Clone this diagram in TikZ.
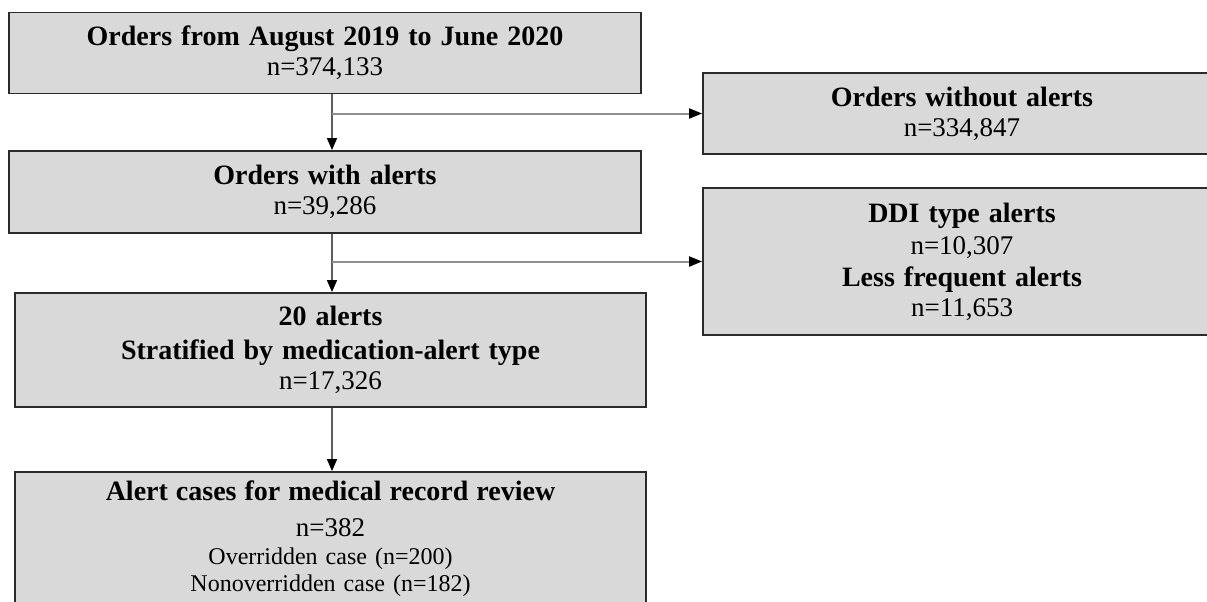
\documentclass[tikz,border=0pt]{standalone}
\usepackage{fontspec}
\setmainfont{Liberation Serif}[WordSpace=1.35]
\usetikzlibrary{arrows.meta}
\definecolor{boxfill}{HTML}{D9D9D9}
\definecolor{boxline}{HTML}{2B2B2B}
\definecolor{vlinecol}{HTML}{5E5E5E}
\definecolor{hlinecol}{HTML}{8F8F8F}
\newcommand\tkHead{\fontsize{28}{30}\selectfont\bfseries}
\newcommand\tkNum{\fontsize{27}{30}\selectfont\mdseries}
\newcommand\tkSmall{\fontsize{24}{27.5}\selectfont\mdseries}
\begin{document}
\begin{tikzpicture}[x=1pt,y=-1pt,
  flowbox/.style={draw=boxline, line width=1.8pt, fill=boxfill, inner sep=0pt, align=center,
    font=\fontsize{27}{30}\selectfont},
  vconn/.style={draw=vlinecol, line width=1.4pt, -{Triangle[length=12pt,width=10pt,color=black]}},
  hconn/.style={draw=hlinecol, line width=2pt, -{Triangle[length=13pt,width=10pt,color=black]}}]
\clip (0,0) rectangle (1207,602);
\fill[white] (0,0) rectangle (1207,602);
\node[flowbox, text width=632pt, minimum height=81pt] (b1) at (325,53)
  {\tkHead Orders from August 2019 to June 2020\\\tkNum n=374,133};
\node[flowbox, text width=632pt, minimum height=82pt] (b2) at (325,192)
  {\tkHead Orders with alerts\\\tkNum n=39,286};
\node[flowbox, text width=631pt, minimum height=114pt] (b3) at (330.5,350)
  {\tkHead 20 alerts\\[4pt]Stratified by medication-alert type\\\tkNum n=17,326};
\node[flowbox, text width=631pt, minimum height=134pt, font=\fontsize{24}{27.5}\selectfont] (b4) at (330.5,539)
  {\tkHead Alert cases for medical record review\\[6pt]\tkNum n=382\\\tkSmall Overridden case (n=200)\\Nonoverridden case (n=182)};
\node[flowbox, text width=518pt, minimum height=81pt] (r1) at (962,113.5)
  {\tkHead Orders without alerts\\\tkNum n=334,847};
\node[flowbox, text width=518pt, minimum height=147pt] (r2) at (962,261.5)
  {\tkHead DDI type alerts\\[2pt]\tkNum n=10,307\\[2pt]\tkHead Less frequent alerts\\\tkNum n=11,653};
\coordinate (ax) at (332,0);
\draw[vconn] (b1.south -| ax) -- (b2.north -| ax);
\draw[vconn] (b2.south -| ax) -- (b3.north -| ax);
\draw[vconn] (b3.south -| ax) -- (b4.north -| ax);
\draw[hconn] (r1.west -| ax) -- (r1.west);
\draw[hconn] (r2.west -| ax) -- (r2.west);
\end{tikzpicture}
\end{document}
